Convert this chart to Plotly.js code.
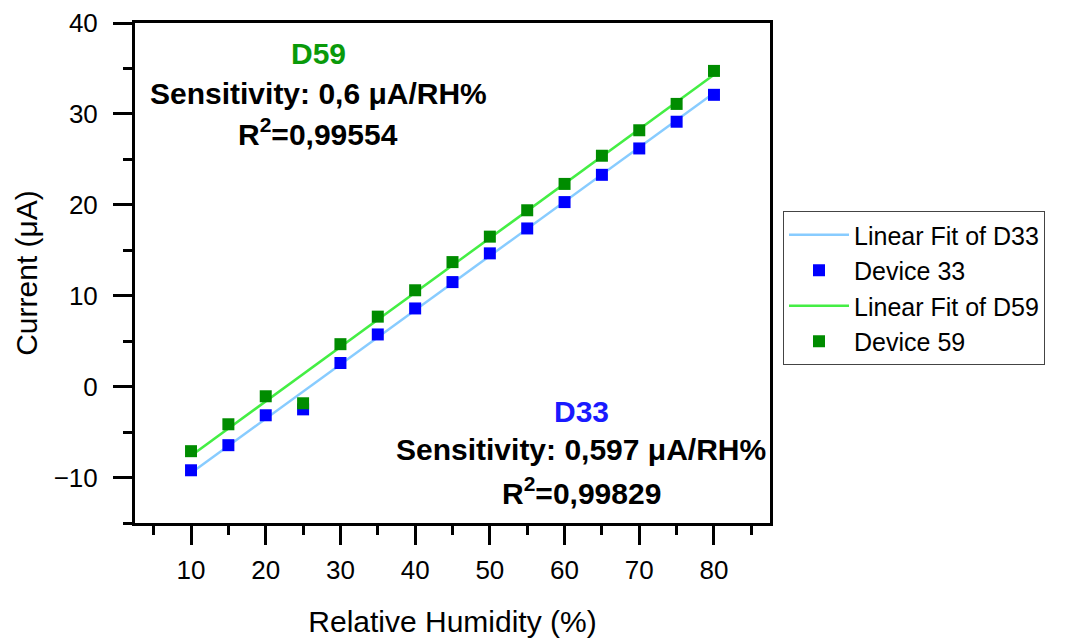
<!DOCTYPE html>
<html>
<head>
<meta charset="utf-8">
<script src="https://cdn.plot.ly/plotly-3.0.1.min.js"></script>
<style>html,body{margin:0;padding:0;background:#fff;}#chart{width:1066px;height:642px;}</style>
</head>
<body>
<div id="chart"></div>
<script>
// Relative humidity (%)
const humidity = [10, 15, 20, 25, 30, 35, 40, 45, 50, 55, 60, 65, 70, 75, 80];
// Device 33 current (uA)
const device33 = [-9.2, -6.44, -3.15, -2.5, 2.6, 5.74, 8.6, 11.5, 14.66, 17.4, 20.3, 23.3, 26.2, 29.14, 32.1];
// Device 59 current (uA)
const device59 = [-7.1, -4.14, -1.06, -1.83, 4.67, 7.7, 10.6, 13.7, 16.5, 19.4, 22.3, 25.4, 28.2, 31.1, 34.73];
// Linear fit endpoints
const fitX = [10, 80];
const fit33 = [-9.5, 32.3];
const fit59 = [-7.6, 34.3];
const xTicks = [10, 20, 30, 40, 50, 60, 70, 80];

const font = 'Liberation Sans, Arial, sans-serif';

const traces = [
  {x: fitX, y: fit33, mode: 'lines', name: 'Linear Fit of D33',
   line: {color: '#88CCFF', width: 2.5}},
  {x: humidity, y: device33, mode: 'markers', name: 'Device 33',
   marker: {symbol: 'square', size: 12, color: '#0000FF'}},
  {x: fitX, y: fit59, mode: 'lines', name: 'Linear Fit of D59',
   line: {color: '#44EE44', width: 2.5}},
  {x: humidity, y: device59, mode: 'markers', name: 'Device 59',
   marker: {symbol: 'square', size: 12, color: '#008C00'}}
];

function ann(x, y, text, color, size) {
  return {x: x, y: y, xref: 'x', yref: 'y', text: text, showarrow: false,
          xanchor: 'center', yanchor: 'middle',
          font: {family: font, size: size, color: color, weight: 'bold'}};
}

const layout = {
  width: 1066, height: 642,
  margin: {l: 135, r: 296, t: 23, b: 119, pad: 0},
  paper_bgcolor: '#fff', plot_bgcolor: '#fff',
  font: {family: font, color: '#000'},
  showlegend: true,
  legend: {
    x: 1.0205, y: 0.624, xanchor: 'left', yanchor: 'top',
    bordercolor: '#444', borderwidth: 1, bgcolor: '#fff',
    font: {family: font, size: 25, color: '#000'},
    itemwidth: 60, tracegroupgap: 0
  },
  xaxis: {
    range: [2.5, 87.5], tickvals: xTicks, ticks: 'outside', ticklen: 19, tickwidth: 3,
    tickcolor: '#000', showline: true, linewidth: 3, linecolor: '#000', mirror: true,
    showgrid: false, zeroline: false,
    tickfont: {family: font, size: 26, color: '#000'},
    ticklabelstandoff: 3,
    minor: {dtick: 5, tick0: 0, ticks: 'outside', ticklen: 9, tickwidth: 3, tickcolor: '#000', showgrid: false},
    title: {text: 'Relative Humidity (%)', font: {family: font, size: 30, color: '#000'}, standoff: 27}
  },
  yaxis: {
    range: [-15, 40], dtick: 10, tick0: 0, ticks: 'outside', ticklen: 19, tickwidth: 3,
    tickcolor: '#000', showline: true, linewidth: 3, linecolor: '#000', mirror: true,
    showgrid: false, zeroline: false,
    tickfont: {family: font, size: 26, color: '#000'},
    ticklabelstandoff: 10,
    minor: {dtick: 5, tick0: 0, ticks: 'outside', ticklen: 9, tickwidth: 3, tickcolor: '#000', showgrid: false},
    title: {text: 'Current (\u03BCA)', font: {family: font, size: 30, color: '#000'}, standoff: 8}
  },
  annotations: [
    ann(27.0, 36.64, 'D59', '#0A9A0A', 30),
    ann(27.0, 32.25, 'Sensitivity: 0,6 \u03BCA/RH%', '#000', 30),
    ann(27.0, 28.04, 'R<sup>2</sup>=0,99554', '#000', 30),
    ann(62.25, -2.68, 'D33', '#1A1AFF', 30),
    ann(62.25, -6.88, 'Sensitivity: 0,597 \u03BCA/RH%', '#000', 30),
    ann(62.25, -11.45, 'R<sup>2</sup>=0,99829', '#000', 30)
  ]
};

Plotly.newPlot('chart', traces, layout, {displayModeBar: false, staticPlot: true});
</script>
</body>
</html>
